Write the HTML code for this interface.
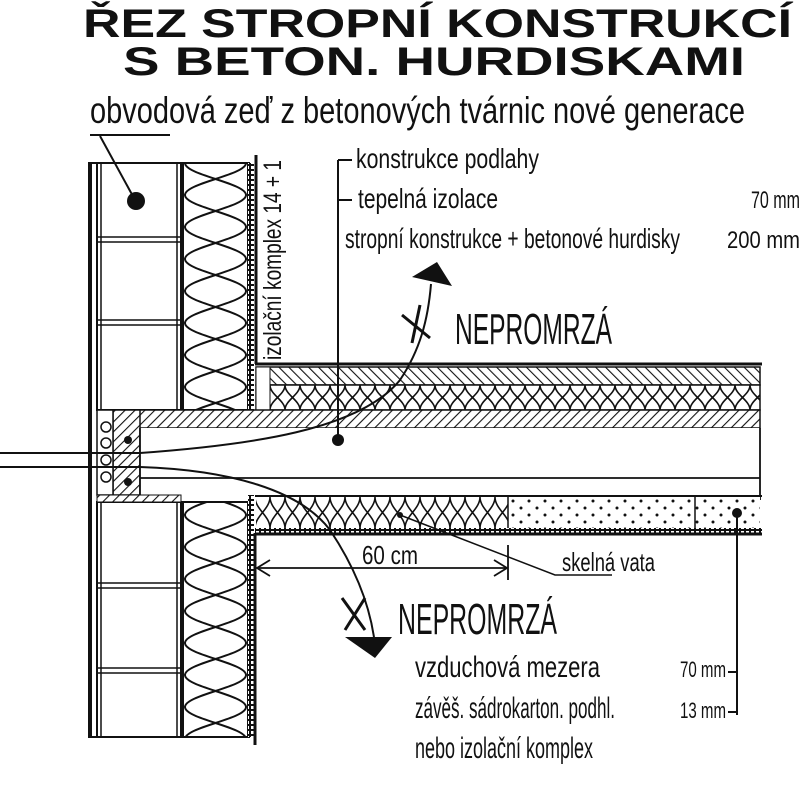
<!DOCTYPE html>
<html><head><meta charset="utf-8"><style>
html,body{margin:0;padding:0;background:#fff;}
svg{display:block;}
text{font-family:"Liberation Sans Narrow","Liberation Sans",sans-serif;fill:#111;}
</style></head><body>
<svg width="800" height="797" viewBox="0 0 800 797" xmlns="http://www.w3.org/2000/svg">
<defs>
 <pattern id="hf" width="7" height="7" patternUnits="userSpaceOnUse" patternTransform="rotate(45)">
  <rect width="7" height="7" fill="#fff"/><line x1="0" y1="0" x2="0" y2="7" stroke="#111" stroke-width="2.2"/>
 </pattern>
 <pattern id="hb" width="7" height="7" patternUnits="userSpaceOnUse" patternTransform="rotate(-45)">
  <rect width="7" height="7" fill="#fff"/><line x1="0" y1="0" x2="0" y2="7" stroke="#111" stroke-width="2.2"/>
 </pattern>
 <pattern id="ins" x="183" y="163" width="65" height="32" patternUnits="userSpaceOnUse">
  <rect width="65" height="32" fill="#fff"/>
  <path d="M2,0 C2,12 63,20 63,32 M63,0 C63,12 2,20 2,32" fill="none" stroke="#111" stroke-width="2"/>
 </pattern>
 <pattern id="insf" x="0" y="385" width="15" height="25" patternUnits="userSpaceOnUse">
  <rect width="15" height="25" fill="#fff"/>
  <path d="M0,0 C0,10 15,15 15,25 M15,0 C15,10 0,15 0,25" fill="none" stroke="#111" stroke-width="1.6"/>
 </pattern>
 <pattern id="insl" x="0" y="497" width="15" height="31" patternUnits="userSpaceOnUse">
  <rect width="15" height="31" fill="#fff"/>
  <path d="M0,0 C0,12 15,19 15,31 M15,0 C15,12 0,19 0,31" fill="none" stroke="#111" stroke-width="1.6"/>
 </pattern>
 <pattern id="dots" x="508" y="497" width="16" height="14" patternUnits="userSpaceOnUse">
  <rect width="16" height="14" fill="#fff"/><circle cx="5" cy="4" r="1.5" fill="#111"/><circle cx="13" cy="11" r="1.5" fill="#111"/>
 </pattern>
 <pattern id="strip" width="5" height="5" patternUnits="userSpaceOnUse">
  <rect width="5" height="5" fill="#111"/><rect x="1" y="1" width="3" height="3" fill="#fff"/>
 </pattern>
</defs>

<text x="83" y="37" font-size="40" font-weight="bold" textLength="709" lengthAdjust="spacingAndGlyphs" style="font-family:'Liberation Sans',sans-serif">ŘEZ STROPNÍ KONSTRUKCÍ</text>
<text x="123" y="75" font-size="40" font-weight="bold" textLength="622" lengthAdjust="spacingAndGlyphs" style="font-family:'Liberation Sans',sans-serif">S BETON. HURDISKAMI</text>
<text x="90" y="123" font-size="37" textLength="655" lengthAdjust="spacingAndGlyphs">obvodová zeď z betonových tvárnic nové generace</text>
<path d="M90,135 H170 M100,136 L135,200" stroke="#111" stroke-width="2" fill="none"/>

<g stroke="#111" fill="none">
 <rect x="97" y="163" width="84" height="247" stroke-width="2"/>
 <path d="M101,163 V410 M177,163 V410" stroke-width="1.5"/>
 <path d="M97,237 H181 M97,242 H181 M97,320 H181 M97,325 H181" stroke-width="1.5"/>
 <rect x="97" y="502" width="84" height="235" stroke-width="2"/>
 <path d="M101,502 V737 M177,502 V737" stroke-width="1.5"/>
 <path d="M97,583 H181 M97,588 H181 M97,668 H181 M97,673 H181" stroke-width="1.5"/>
</g>
<path d="M90,163 V737" stroke="#111" stroke-width="4"/>
<path d="M88,163 H250 M88,737 H250" stroke="#111" stroke-width="2"/>
<circle cx="136" cy="201" r="9" fill="#111"/>

<rect x="183" y="163" width="65" height="247" fill="url(#ins)" stroke="#111" stroke-width="2"/>
<rect x="183" y="502" width="65" height="235" fill="url(#ins)" stroke="#111" stroke-width="2"/>
<rect x="248" y="163" width="6" height="247" fill="url(#strip)"/>
<rect x="248" y="495" width="6" height="242" fill="url(#strip)"/>
<path d="M256,155 V364 M255,533 V745" stroke="#111" stroke-width="3"/>

<path d="M255,364 H762" stroke="#111" stroke-width="3"/>
<rect x="256" y="367" width="504" height="18" fill="url(#hb)" stroke="#111" stroke-width="1.5"/>
<rect x="256" y="385" width="504" height="25" fill="url(#insf)" stroke="#111" stroke-width="1.5"/>
<rect x="256" y="367" width="14" height="43" fill="#fff" stroke="#111" stroke-width="1"/>
<rect x="113" y="410" width="647" height="18" fill="url(#hf)" stroke="#111" stroke-width="1.5"/>
<rect x="113" y="410" width="27" height="85" fill="url(#hf)" stroke="#111" stroke-width="1.5"/>
<rect x="140" y="428" width="620" height="67" fill="#fff"/>
<path d="M140,428 V495 M140,478 H760 M760,428 V500" stroke="#111" stroke-width="1.8" fill="none"/>
<rect x="97" y="410" width="16" height="85" fill="#fff" stroke="#111" stroke-width="1.5"/>
<g fill="none" stroke="#111" stroke-width="1.5">
 <circle cx="106" cy="427" r="5"/><circle cx="106" cy="443" r="5"/><circle cx="106" cy="460" r="5"/><circle cx="106" cy="477" r="5"/>
</g>
<circle cx="128" cy="440" r="4" fill="#111"/><circle cx="128" cy="482" r="4" fill="#111"/>
<rect x="97" y="495" width="84" height="7" fill="url(#hf)" stroke="#111" stroke-width="1"/>

<rect x="255" y="495" width="507" height="2" fill="#111"/>
<rect x="256" y="497" width="252" height="31" fill="url(#insl)"/>
<rect x="508" y="497" width="252" height="31" fill="url(#dots)"/>
<path d="M508,497 V528 M695,497 V528" stroke="#111" stroke-width="1.5"/>
<rect x="255" y="528" width="507" height="5" fill="url(#strip)"/>
<path d="M255,534 H762" stroke="#111" stroke-width="3"/>

<path d="M0,453 H140 C250,445 360,430 400,380 C420,350 428,320 431,284" fill="none" stroke="#111" stroke-width="2"/>
<path d="M0,467 H140 C230,470 300,490 330,530 C350,560 370,600 375,645" fill="none" stroke="#111" stroke-width="2"/>
<polygon points="412,277 437,262 452,286" fill="#111"/>
<polygon points="345,637 392,637 375,658" fill="#111"/>
<path d="M402,315 L430,338 M420,305 L412,343" stroke="#111" stroke-width="3"/>
<path d="M342,598 L365,630 M365,598 L345,630" stroke="#111" stroke-width="3"/>
<text x="455" y="344" font-size="44" textLength="157" lengthAdjust="spacingAndGlyphs">NEPROMRZÁ</text>
<text x="398" y="634" font-size="44" textLength="159" lengthAdjust="spacingAndGlyphs">NEPROMRZÁ</text>

<path d="M338,160 V440 M338,160 H352 M338,200 H352" stroke="#111" stroke-width="2" fill="none"/>
<circle cx="338" cy="440" r="6" fill="#111"/>
<text x="356" y="168" font-size="28" textLength="183" lengthAdjust="spacingAndGlyphs">konstrukce podlahy</text>
<text x="358" y="208" font-size="28" textLength="140" lengthAdjust="spacingAndGlyphs">tepelná izolace</text>
<text x="751" y="208" font-size="24" textLength="49" lengthAdjust="spacingAndGlyphs">70 mm</text>
<text x="345" y="248" font-size="28" textLength="335" lengthAdjust="spacingAndGlyphs">stropní konstrukce + betonové hurdisky</text>
<text x="727" y="248" font-size="24" textLength="73" lengthAdjust="spacingAndGlyphs">200 mm</text>

<text x="0" y="0" font-size="25" transform="translate(281,360) rotate(-90)" textLength="200" lengthAdjust="spacingAndGlyphs">izolační komplex 14 + 1</text>

<path d="M257,568 H507 M508,545 V580" stroke="#111" stroke-width="1.8"/>
<path d="M270,560 L257,568 L270,576 M494,560 L507,568 L494,576" stroke="#111" stroke-width="1.8" fill="none"/>
<text x="362" y="564" font-size="26" textLength="56" lengthAdjust="spacingAndGlyphs">60 cm</text>
<path d="M400,515 L555,575 H612" stroke="#111" stroke-width="1.5" fill="none"/>
<circle cx="400" cy="515" r="3" fill="#111"/>
<text x="562" y="571" font-size="26" textLength="93" lengthAdjust="spacingAndGlyphs">skelná vata</text>

<circle cx="737" cy="513" r="5" fill="#111"/>
<path d="M737,513 V715 M728,672 H737 M728,712 H737" stroke="#111" stroke-width="2" fill="none"/>
<text x="415" y="677" font-size="30" textLength="185" lengthAdjust="spacingAndGlyphs">vzduchová mezera</text>
<text x="680" y="677" font-size="22" textLength="46" lengthAdjust="spacingAndGlyphs">70 mm</text>
<text x="415" y="718" font-size="30" textLength="200" lengthAdjust="spacingAndGlyphs">závěš. sádrokarton. podhl.</text>
<text x="680" y="718" font-size="22" textLength="46" lengthAdjust="spacingAndGlyphs">13 mm</text>
<text x="415" y="758" font-size="30" textLength="178" lengthAdjust="spacingAndGlyphs">nebo izolační komplex</text>
</svg>
</body></html>
